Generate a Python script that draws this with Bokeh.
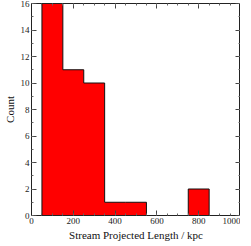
from bokeh.plotting import figure
from bokeh.models import Range1d, LinearAxis, SingleIntervalTicker, CustomJSTickFormatter
from bokeh.embed import file_html
from bokeh.resources import INLINE

bin_edges = [50, 150, 250, 350, 450, 550, 650, 750, 850]
counts = [16, 11, 10, 1, 1, 0, 0, 2]
x_label = "Stream Projected Length / kpc"
y_label = "Count"

# step outline (stepfilled histogram)
xs = [bin_edges[0]]
ys = [0]
for i, c in enumerate(counts):
    xs += [bin_edges[i], bin_edges[i + 1]]
    ys += [c, c]
xs.append(bin_edges[-1])
ys.append(0)

FONT = "Liberation Serif"

p = figure(width=240, height=243, output_backend="svg", toolbar_location=None,
           x_range=Range1d(0, 1000), y_range=Range1d(0, 16),
           min_border_left=0, min_border_right=0, min_border_top=3, min_border_bottom=2,
           x_axis_location=None, y_axis_location=None)
p.grid.visible = False
p.outline_line_color = "#222222"
p.background_fill_color = "white"
p.border_fill_color = "white"

p.patch(xs, ys, fill_color="#ff0000", line_color="#111111", line_width=1)

def style(ax, labels=True):
    ax.major_tick_in = 5
    ax.major_tick_out = 0
    ax.minor_tick_in = 2
    ax.minor_tick_out = 0
    ax.axis_line_color = "#222222"
    ax.major_tick_line_color = "#444444"
    ax.minor_tick_line_color = "#666666"
    ax.major_label_text_font = FONT
    ax.major_label_text_font_size = "9px"
    ax.major_label_text_color = "#222222"
    ax.major_label_standoff = 2 if labels else 0
    ax.axis_label_text_font = FONT
    ax.axis_label_text_font_size = "11px"
    ax.axis_label_text_font_style = "normal"
    ax.axis_label_text_color = "#111111"
    ax.axis_label_standoff = 2
    if not labels:
        ax.formatter = CustomJSTickFormatter(code="return ''")

xt = lambda: SingleIntervalTicker(interval=200, num_minor_ticks=4)
yt = lambda: SingleIntervalTicker(interval=2, num_minor_ticks=2)

bx = LinearAxis(ticker=xt(), axis_label=x_label)
style(bx)
p.add_layout(bx, "below")
ly = LinearAxis(ticker=yt(), axis_label=y_label)
style(ly)
p.add_layout(ly, "left")
tx = LinearAxis(ticker=xt())
style(tx, labels=False)
p.add_layout(tx, "above")
ry = LinearAxis(ticker=yt())
style(ry, labels=False)
p.add_layout(ry, "right")

open("out.html", "w").write(file_html(p, INLINE))
